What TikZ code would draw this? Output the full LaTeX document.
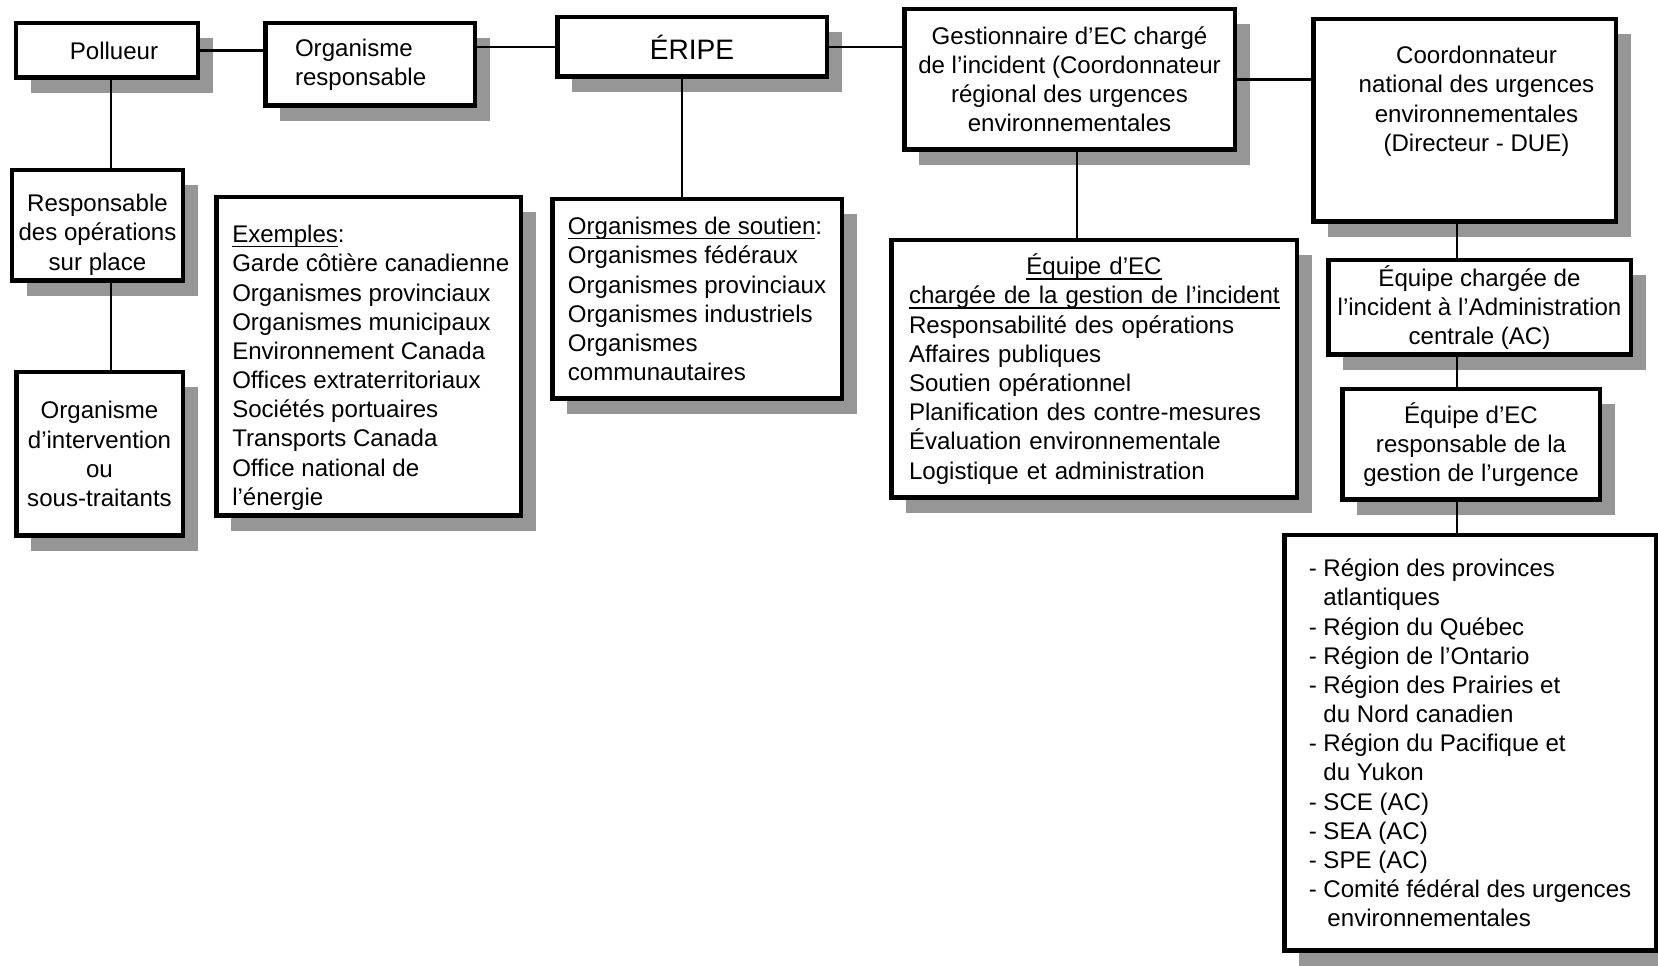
\documentclass[tikz,border=0pt]{standalone}
\usepackage{fontspec}
\setmainfont{Liberation Sans}
\usetikzlibrary{shadows}
\definecolor{shadowgray}{RGB}{150,150,150}
\newsavebox{\ulbox}
\newcommand{\ulword}[1]{\leavevmode\sbox{\ulbox}{#1}\rlap{\rule[-0.2em]{\wd\ulbox}{0.08em}}\usebox{\ulbox}}

\begin{document}
\begin{tikzpicture}[
  box/.style={draw=black,line width=0.09cm,fill=white,rectangle,inner sep=0pt,
    font=\fontsize{13.7}{16.6}\selectfont,
    drop shadow={shadow xshift=0.3cm,shadow yshift=-0.3cm,fill=shadowgray,opacity=1}},
  link/.style={draw=black,line width=0.045cm}]
\useasboundingbox (0,0) rectangle (33.16,19.32);

% top row
\node[box,minimum width=3.63cm,minimum height=1.09cm] (poll) at (2.14,18.31) {\hspace*{0.28cm}Pollueur};
\node[box,minimum width=4.19cm,minimum height=1.65cm,text width=3.0cm,align=left] (orgresp) at (7.40,18.03) {Organisme\\responsable};
\node[box,minimum width=5.39cm,minimum height=1.19cm,font=\fontsize{16}{19}\selectfont] (eripe) at (13.84,18.38) {ÉRIPE};
\node[box,minimum width=6.61cm,minimum height=2.81cm,align=center] (gest) at (21.39,17.73)
  {Gestionnaire d’EC chargé\\de l’incident (Coordonnateur\\régional des urgences\\environnementales};
\node[box] (cnue) at (29.29,16.91)
  {\parbox[c][4.05cm][t]{6.05cm}{\centering\leftskip=0.48cm plus 1fil\vspace*{0.54cm}Coordonnateur\\national des urgences\\environnementales\\(Directeur - DUE)}};

% left column
\node[box] (respop) at (1.95,14.81)
  {\parbox[c][2.21cm][t]{3.41cm}{\centering\vspace*{0.48cm}Responsable\\des opérations\\sur place}};
\node[box,minimum width=3.33cm,minimum height=3.27cm,align=center] (orgint) at (1.99,10.24) {Organisme\\d’intervention\\ou\\sous-traitants};

% lists
\node[box] (exemples) at (7.37,12.19)
  {\parbox[c][6.37cm][t]{6.09cm}{\raggedright\leftskip=0.32cm\vspace*{0.56cm}%
   \ulword{Exemples}:\\Garde côtière canadienne\\Organismes provinciaux\\Organismes municipaux\\Environnement Canada\\Offices extraterritoriaux\\Sociétés portuaires\\Transports Canada\\Office national de\\l’énergie}};
\node[box,minimum width=5.79cm,minimum height=3.99cm,align=left] (soutien) at (13.94,13.34)
  {\ulword{Organismes de soutien}:\\Organismes fédéraux\\Organismes provinciaux\\Organismes industriels\\Organismes\\communautaires};
\node[box,minimum width=8.11cm,minimum height=5.15cm,text width=7.4cm,align=left] (eqinc) at (21.88,11.94)
  {\leavevmode\makebox[\linewidth]{\ulword{Équipe d’EC}}\\\ulword{chargée de la gestion de l’incident}\\Responsabilité des opérations\\Affaires publiques\\Soutien opérationnel\\Planification des contre-mesures\\Évaluation environnementale\\Logistique et administration};

% right column
\node[box,minimum width=6.05cm,minimum height=1.89cm,align=center] (eqac) at (29.59,13.17) {Équipe chargée de\\l’incident à l’Administration\\centrale (AC)};
\node[box,minimum width=5.15cm,minimum height=2.21cm,align=center] (eqres) at (29.42,10.43) {Équipe d’EC\\responsable de la\\gestion de l’urgence};
\node[box,minimum width=7.43cm,minimum height=8.31cm,align=left] (regions) at (29.40,4.46)
  {- Région des provinces\\\hphantom{- }atlantiques\\- Région du Québec\\- Région de l’Ontario\\- Région des Prairies et\\\hphantom{- }du Nord canadien\\- Région du Pacifique et\\\hphantom{- }du Yukon\\- SCE (AC)\\- SEA (AC)\\- SPE (AC)\\- Comité fédéral des urgences\\\hphantom{- }\,environnementales};

% connectors
\coordinate (pdrop) at ([xshift=0.08cm]poll.south);
\coordinate (edrop) at ([xshift=-0.2cm]eripe.south);
\coordinate (gdrop) at ([xshift=0.15cm]gest.south);
\coordinate (spine) at (29.14,0);
\draw[link] (poll.east) -- (poll.east -| orgresp.west);
\draw[link] (eripe.west -| orgresp.east) -- (eripe.west);
\draw[link] (eripe.east) -- (eripe.east -| gest.west);
\draw[link] (gest.east) -- (gest.east -| cnue.west);
\draw[link] (pdrop) -- (pdrop |- respop.north);
\draw[link] (pdrop |- respop.south) -- (pdrop |- orgint.north);
\draw[link] (edrop) -- (edrop |- soutien.north);
\draw[link] (gdrop) -- (gdrop |- eqinc.north);
\draw[link] (spine |- cnue.south) -- (spine |- eqac.north);
\draw[link] (spine |- eqac.south) -- (spine |- eqres.north);
\draw[link] (spine |- eqres.south) -- (spine |- regions.north);
\end{tikzpicture}
\end{document}
